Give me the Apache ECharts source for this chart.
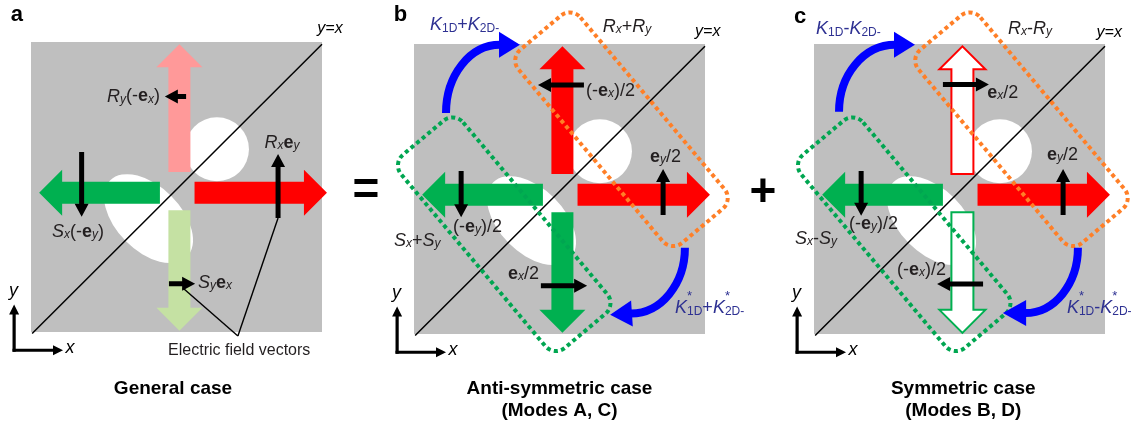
<!DOCTYPE html>
<html>
<head>
<meta charset="utf-8">
<title>Field components of the hole-pair slab</title>
<script src="https://cdn.jsdelivr.net/npm/echarts@6/dist/echarts.min.js"></script>
<style>
  html, body { margin: 0; padding: 0; background: #ffffff; }
  #chart { width: 1131px; height: 426px; }
</style>
</head>
<body>
<div id="chart"></div>
<script>
// Geometry is given in slab units: each grey square spans 0..100 on both axes.

const panelLetters = ['a', 'b', 'c'];
const panelTitles = [
  ['General case'],
  ['Anti-symmetric case', '(Modes A, C)'],
  ['Symmetric case', '(Modes B, D)']
];
const titleAnchors = [[48.8, -19.7], [50.0, -19.0], [51.3, -19.0]];

// Air holes: circle [cx, cy, r] and tilted ellipse [cx, cy, semi-major, semi-minor, angle in degrees]
const holeCircles = [[63.9, 63.0, 11.0]];
const holeEllipses = [[40.4, 39.1, 18.6, 11.0, -45]];

// Mirror line y = x  [x1, y1, x2, y2]
const mirrorLine = [[0.4, -0.5, 100.0, 99.2]];

// Field components  [component, tail x, tail y, tip x, tip y]
const fieldArrows = [
  ['Rx', 56.2, 48.0, 101.7, 48.0],
  ['Ry', 51.0, 55.2, 51.0, 99.2],
  ['Sx', 44.3, 48.0, 2.8, 48.0],
  ['Sy', 51.0, 42.0, 51.0, 0.4]
];

// Electric field vectors  [tail x, tail y, tip x, tip y]
const vectorsA = [[53.3, 81.2, 46.0, 81.2], [17.4, 62.1, 17.4, 39.7], [84.9, 39.3, 84.9, 61.4], [47.4, 16.6, 56.4, 16.6]];
const vectorsB = [[58.4, 85.9, 42.6, 85.9], [85.6, 41.0, 85.6, 56.9], [16.2, 56.2, 16.2, 40.3], [43.6, 16.6, 59.5, 16.6]];
const vectorsC = [[44.3, 86.0, 60.1, 86.0], [85.6, 41.0, 85.6, 56.9], [16.2, 56.2, 16.2, 40.8], [58.1, 17.2, 42.3, 17.2]];

// Leader lines for the "Electric field vectors" note  [x1, y1, x2, y2]
const leadersA = [[84.9, 39.3, 71.1, -1.4], [52.2, 15.2, 71.1, -1.4]];

// Mode groupings  [group, centre x, centre y, length, width]
const modeBoxes = [['R', 71.3, 70.6, 86.6, 27.8], ['S', 31.0, 34.4, 86.6, 27.8]];

// Coupling arcs  [start x, start y, end x, end y, tip x, tip y]
const arcsB = [[11.0, 76.2, 29.2, 99.7, 36.4, 99.7], [93.1, 29.7, 74.9, 7.1, 67.4, 6.6]];
const arcsC = [[8.6, 76.6, 27.5, 99.7, 34.7, 99.7], [90.7, 29.7, 72.9, 7.2, 64.9, 7.2]];

// Coordinate axes glyph  [corner x, corner y, x-arrow tip x, y-arrow tip y]
const axesGlyph = [[-5.8, -6.3, 11.0, 9.5]];

// Text  [x, y, rich text, anchor]
const labelsA = [
  [-7.0, 109.3, '{L|a}', 'left'],
  [98.4, 104.7, '{yx|y=x}', 'left'],
  [44.3, 81.2, '{i|R}{si|y}{n|(-}{b|e}{si|x}{n|)}', 'right'],
  [7.2, 34.5, '{i|S}{si|x}{n|(-}{b|e}{si|y}{n|)}', 'left'],
  [80.2, 65.3, '{i|R}{si|x}{b|e}{si|y}', 'left'],
  [57.4, 17.0, '{i|S}{si|y}{b|e}{si|x}', 'left'],
  [47.1, -6.4, '{ef|Electric field vectors}', 'left'],
  [115.1, 48.6, '{op|=}', 'center'],
  [-6.0, 14.1, '{ax|y}', 'center'],
  [13.4, -5.5, '{ax|x}', 'center']
];
const labelsB = [
  [-7.0, 110.0, '{L|b}', 'left'],
  [5.5, 106.6, '{ki|K}{ks|1D}{kn|+}{ki|K}{ks|2D-}', 'left'],
  [64.9, 106.0, '{i|R}{si|x}{n|+}{i|R}{si|y}', 'left'],
  [96.6, 104.3, '{yx|y=x}', 'left'],
  [59.1, 83.8, '{n|(-}{b|e}{si|x}{n|)/2}', 'left'],
  [81.1, 61.0, '{b|e}{si|y}{n|/2}', 'left'],
  [13.4, 36.9, '{n|(-}{b|e}{si|y}{n|)/2}', 'left'],
  [-6.9, 32.1, '{i|S}{si|x}{n|+}{i|S}{si|y}', 'left'],
  [32.3, 20.7, '{b|e}{si|x}{n|/2}', 'left'],
  [89.7, 9.0, '{ki|K}{ksup|*}{ks|1D}{kn|+}{ki|K}{ksup|*}{ks|2D-}', 'left'],
  [119.9, 48.6, '{op|+}', 'center'],
  [-6.0, 14.1, '{ax|y}', 'center'],
  [13.4, -5.5, '{ax|x}', 'center']
];
const labelsC = [
  [-6.9, 109.4, '{L|c}', 'left'],
  [0.7, 105.2, '{ki|K}{ks|1D}{kn|-}{ki|K}{ks|2D-}', 'left'],
  [66.7, 105.2, '{i|R}{si|x}{n|-}{i|R}{si|y}', 'left'],
  [97.1, 104.1, '{yx|y=x}', 'left'],
  [59.5, 83.1, '{b|e}{si|x}{n|/2}', 'left'],
  [80.1, 61.7, '{b|e}{si|y}{n|/2}', 'left'],
  [12.0, 37.9, '{n|(-}{b|e}{si|y}{n|)/2}', 'left'],
  [-6.5, 32.8, '{i|S}{si|x}{n|-}{i|S}{si|y}', 'left'],
  [28.5, 22.1, '{n|(-}{b|e}{si|x}{n|)/2}', 'left'],
  [86.9, 9.0, '{ki|K}{ksup|*}{ks|1D}{kn|-}{ki|K}{ksup|*}{ks|2D-}', 'left'],
  [-6.0, 14.1, '{ax|y}', 'center'],
  [13.4, -5.5, '{ax|x}', 'center']
];

// ---------------- styling ----------------
const FONT = '"Liberation Sans", Arial, Helvetica, sans-serif';
const INK = '#231f20';
const NAVY = '#2e3192';
const SLAB = '#bfbfbf';
const fieldFills = {
  red: { fill: '#ff0000' },
  pink: { fill: '#ff9999' },
  green: { fill: '#00b050' },
  paleGreen: { fill: '#c5e1a3' },
  redOpen: { fill: '#ffffff', stroke: '#ff0000', lineWidth: 2 },
  greenOpen: { fill: '#ffffff', stroke: '#00b050', lineWidth: 2 }
};
const fieldLook = [
  { Rx: 'red', Ry: 'pink', Sx: 'green', Sy: 'paleGreen' },
  { Rx: 'red', Ry: 'red', Sx: 'green', Sy: 'green' },
  { Rx: 'red', Ry: 'redOpen', Sx: 'green', Sy: 'greenOpen' }
];
const boxColors = { R: '#ff7f27', S: '#00a651' };
const BOX_TILT = -50 * Math.PI / 180;

function tok(extra) {
  return Object.assign({ fontFamily: FONT, fontSize: 18, fill: INK, lineHeight: 24, height: 24 }, extra);
}
const RICH = {
  i: tok({ fontStyle: 'italic' }),
  n: tok({}),
  b: tok({ fontWeight: 'bold' }),
  si: tok({ fontSize: 12, fontStyle: 'italic', lineHeight: 18, height: 18, verticalAlign: 'bottom' }),
  ki: tok({ fontStyle: 'italic', fill: NAVY, lineHeight: 30, height: 30 }),
  kn: tok({ fill: NAVY, lineHeight: 30, height: 30 }),
  ks: tok({ fontSize: 12, fill: NAVY, lineHeight: 22, height: 22, verticalAlign: 'bottom' }),
  ksup: tok({ fontSize: 13, fill: NAVY, lineHeight: 8, height: 8, verticalAlign: 'top', width: 0 }),
  yx: tok({ fontSize: 16, fontStyle: 'italic', fill: '#000', lineHeight: 20, height: 20 }),
  ef: tok({ fontSize: 16, lineHeight: 20, height: 20 }),
  L: tok({ fontSize: 22, fontWeight: 'bold', fill: '#000', lineHeight: 26, height: 26 }),
  op: tok({ fontSize: 46, fontWeight: 'bold', fill: '#000', lineHeight: 50, height: 50 }),
  ax: tok({ fontSize: 18, fontStyle: 'italic', fill: '#000' }),
  t: tok({ fontSize: 19, fontWeight: 'bold', fill: '#000' })
};

// ---------------- drawing helpers ----------------
function unitPx(api, v) { return api.size([v, 0])[0]; }

function arrowPoints(t, p, body, headW, headL) {
  const dx = p[0] - t[0], dy = p[1] - t[1];
  const len = Math.hypot(dx, dy) || 1;
  const ux = dx / len, uy = dy / len, nx = -uy, ny = ux;
  const bx = p[0] - ux * headL, by = p[1] - uy * headL;
  const h = body / 2, H = headW / 2;
  return [
    [t[0] + nx * h, t[1] + ny * h], [bx + nx * h, by + ny * h], [bx + nx * H, by + ny * H],
    [p[0], p[1]],
    [bx - nx * H, by - ny * H], [bx - nx * h, by - ny * h], [t[0] - nx * h, t[1] - ny * h]
  ];
}

const draw = {
  circle: (r, api) => {
    const c = api.coord([r[0], r[1]]);
    return { type: 'circle', shape: { cx: c[0], cy: c[1], r: unitPx(api, r[2]) }, style: { fill: '#ffffff' } };
  },
  ellipse: (r, api) => {
    const c = api.coord([r[0], r[1]]);
    const a = unitPx(api, r[2]), b = unitPx(api, r[3]);
    return {
      type: 'circle', x: c[0], y: c[1], rotation: r[4] * Math.PI / 180, scaleX: a / b,
      shape: { cx: 0, cy: 0, r: b }, style: { fill: '#ffffff' }
    };
  },
  line: (width) => (r, api) => {
    const p = api.coord([r[0], r[1]]), q = api.coord([r[2], r[3]]);
    return { type: 'line', shape: { x1: p[0], y1: p[1], x2: q[0], y2: q[1] }, style: { stroke: '#000', lineWidth: width } };
  },
  field: (panel) => (r, api) => {
    const t = api.coord([r[1], r[2]]), p = api.coord([r[3], r[4]]);
    const look = fieldFills[fieldLook[panel][r[0]]];
    return { type: 'polygon', shape: { points: arrowPoints(t, p, 22, 46, 23) }, style: Object.assign({}, look) };
  },
  vector: (r, api) => {
    const t = api.coord([r[0], r[1]]), p = api.coord([r[2], r[3]]);
    return { type: 'polygon', shape: { points: arrowPoints(t, p, 5, 14, 13) }, style: { fill: '#000' } };
  },
  box: (r, api) => {
    const c = api.coord([r[1], r[2]]);
    const L = unitPx(api, r[3]), W = unitPx(api, r[4]);
    return {
      type: 'rect', x: c[0], y: c[1], rotation: BOX_TILT,
      shape: { x: -L / 2, y: -W / 2, width: L, height: W, r: 14 },
      style: { fill: 'none', stroke: boxColors[r[0]], lineWidth: 4, lineDash: [4, 3.3], lineCap: 'butt' }
    };
  },
  arc: (r, api) => {
    const s = api.coord([r[0], r[1]]), e = api.coord([r[2], r[3]]), tip = api.coord([r[4], r[5]]);
    const k = 0.55;
    const dx = tip[0] - e[0], dy = tip[1] - e[1], len = Math.hypot(dx, dy);
    const ux = dx / len, uy = dy / len, nx = -uy, ny = ux;
    return {
      type: 'group',
      children: [
        {
          type: 'bezierCurve',
          shape: {
            x1: s[0], y1: s[1], x2: e[0] + ux * 1, y2: e[1] + uy * 1,
            cpx1: s[0], cpy1: s[1] + k * (e[1] - s[1]),
            cpx2: e[0] - k * (e[0] - s[0]), cpy2: e[1]
          },
          style: { stroke: '#0000ff', lineWidth: 8, fill: 'none', lineCap: 'butt' }
        },
        {
          type: 'polygon',
          shape: { points: [[e[0] + nx * 13, e[1] + ny * 13], [tip[0], tip[1]], [e[0] - nx * 13, e[1] - ny * 13]] },
          style: { fill: '#0000ff' }
        }
      ]
    };
  },
  axes: (r, api) => {
    const o = api.coord([r[0], r[1]]);
    const xt = api.coord([r[2], r[1]]);
    const yt = api.coord([r[0], r[3]]);
    const start = (tipPt) => {
      const dx = tipPt[0] - o[0], dy = tipPt[1] - o[1], len = Math.hypot(dx, dy);
      return [o[0] - dx / len * 1.6, o[1] - dy / len * 1.6];
    };
    return {
      type: 'group',
      children: [
        { type: 'polygon', shape: { points: arrowPoints(start(xt), xt, 3.2, 10, 10) }, style: { fill: '#000' } },
        { type: 'polygon', shape: { points: arrowPoints(start(yt), yt, 3.2, 10, 10) }, style: { fill: '#000' } }
      ]
    };
  },
  text: (r, api) => {
    const c = api.coord([r[0], r[1]]);
    return {
      type: 'text', x: c[0], y: c[1],
      style: { text: r[2], rich: RICH, align: r[3], verticalAlign: 'middle', fontFamily: FONT, fontSize: 18, fill: INK }
    };
  }
};

// ---------------- assemble ----------------
const gridOrigins = [[31, 42], [414, 44], [814, 44]];
const panelVectors = [vectorsA, vectorsB, vectorsC];
const panelLabels = [labelsA, labelsB, labelsC];
const panelArcs = [[], arcsB, arcsC];

const series = [];
function addLayer(panel, name, z, rows, render) {
  if (!rows.length) return;
  series.push({
    type: 'custom',
    name: name + '-' + panelLetters[panel],
    coordinateSystem: 'cartesian2d',
    xAxisIndex: panel,
    yAxisIndex: panel,
    clip: false,
    silent: true,
    animation: false,
    z: z,
    data: rows.map(r => r.filter(v => typeof v === 'number')),
    renderItem: (params, api) => render(rows[params.dataIndex], api)
  });
}

panelLetters.forEach((letter, p) => {
  const titleRows = panelTitles[p].map((t, i) =>
    [titleAnchors[p][0], titleAnchors[p][1] - i * 7.6, '{t|' + t + '}', 'center']);
  addLayer(p, 'holes', 1, holeCircles, draw.circle);
  addLayer(p, 'holes-tilted', 1, holeEllipses, draw.ellipse);
  addLayer(p, 'mirror', 2, mirrorLine, draw.line(1.5));
  addLayer(p, 'field', 3, fieldArrows, draw.field(p));
  addLayer(p, 'vectors', 4, panelVectors[p], draw.vector);
  if (p === 0) addLayer(p, 'leaders', 4, leadersA, draw.line(1.4));
  if (p > 0) addLayer(p, 'modes', 5, modeBoxes, draw.box);
  addLayer(p, 'coupling', 6, panelArcs[p], draw.arc);
  addLayer(p, 'axes', 6, axesGlyph, draw.axes);
  addLayer(p, 'labels', 7, panelLabels[p].concat(titleRows), draw.text);
});

const chart = echarts.init(document.getElementById('chart'), null, { renderer: 'canvas' });
chart.setOption({
  animation: false,
  backgroundColor: '#ffffff',
  grid: gridOrigins.map(g => ({
    left: g[0], top: g[1], width: 291, height: 290,
    show: true, backgroundColor: SLAB, borderWidth: 0
  })),
  xAxis: gridOrigins.map((g, i) => ({ type: 'value', gridIndex: i, min: 0, max: 100, show: false })),
  yAxis: gridOrigins.map((g, i) => ({ type: 'value', gridIndex: i, min: 0, max: 100, show: false })),
  series: series
});
</script>
</body>
</html>
